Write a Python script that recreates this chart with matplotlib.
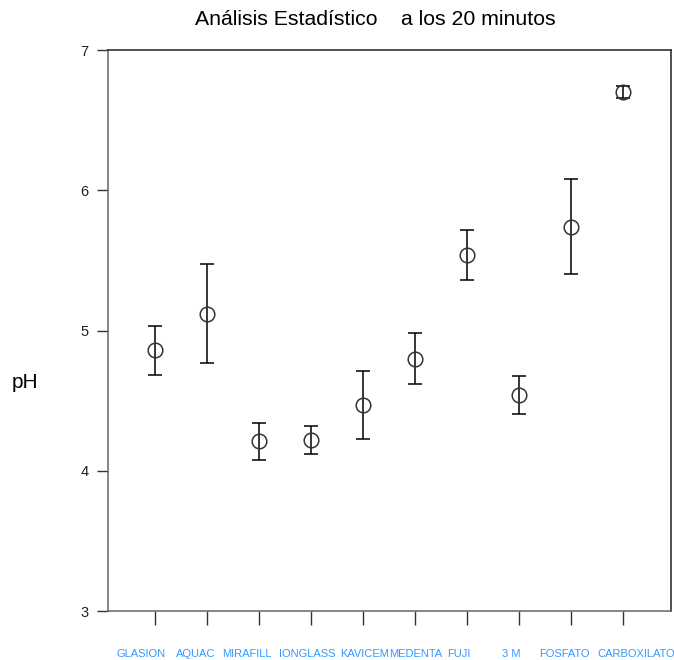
import matplotlib.pyplot as plt
import matplotlib.transforms as mtransforms
import numpy as np

plt.rcParams['font.family'] = ['Liberation Sans', 'DejaVu Sans']

# data
materials = ['GLASION', 'AQUAC', 'MIRAFILL', 'IONGLASS', 'KAVICEM',
             'MEDENTA', 'FUJI', '3 M', 'FOSFATO', 'CARBOXILATO']
ph_mean = [4.86, 5.12, 4.21, 4.22, 4.47, 4.80, 5.54, 4.54, 5.74, 6.70]
ph_err = [0.175, 0.355, 0.13, 0.10, 0.24, 0.18, 0.178, 0.135, 0.34, 0.045]
y_ticks = [3, 4, 5, 6, 7]

# horizontal nudge of each category label (pixels), as in the original layout
label_shift = [-14, -11, -12, -4, 1.5, 1, -8, -7.5, -6.5, 13]

x = np.arange(1, len(materials) + 1)

fig = plt.figure(figsize=(6.74, 6.60), dpi=100)
ax = fig.add_axes([0.1602, 0.0742, 0.8353, 0.85])

ax.errorbar(x, ph_mean, yerr=ph_err, fmt='none', ecolor='black',
            elinewidth=1.1, capsize=5, capthick=1.1, zorder=2)
ax.plot(x, ph_mean, 'o', markersize=10.5, markerfacecolor='none',
        markeredgecolor='#333333', markeredgewidth=1.1, linestyle='none',
        zorder=3)

ax.set_xlim(0.1, 10.92)
ax.set_ylim(3, 7)
ax.set_yticks(y_ticks)
ax.set_yticklabels([str(t) for t in y_ticks])
ax.set_xticks(x)
ax.set_xticklabels(materials)

ax.tick_params(axis='y', direction='out', length=8, width=1, color='#333333',
               labelsize=10.5, labelcolor='#222222', pad=6)
ax.tick_params(axis='x', direction='out', length=10, width=1, color='#333333',
               labelsize=8, labelcolor='#3399ff', pad=17)

for lbl, dx in zip(ax.get_xticklabels(), label_shift):
    lbl.set_transform(lbl.get_transform() +
                      mtransforms.ScaledTranslation(dx / fig.dpi, 0, fig.dpi_scale_trans))

for s in ['top', 'right']:
    ax.spines[s].set_color('#222222')
for s in ['left', 'bottom']:
    ax.spines[s].set_color('#666666')
for s in ax.spines.values():
    s.set_linewidth(1.1)

fig.text(0.557, 0.971, 'Análisis Estadístico    a los 20 minutos', fontsize=15.3,
         ha='center', va='center')
fig.text(0.037, 0.42, 'pH', fontsize=15, ha='center', va='center')

fig.savefig('out.png', dpi=100)
